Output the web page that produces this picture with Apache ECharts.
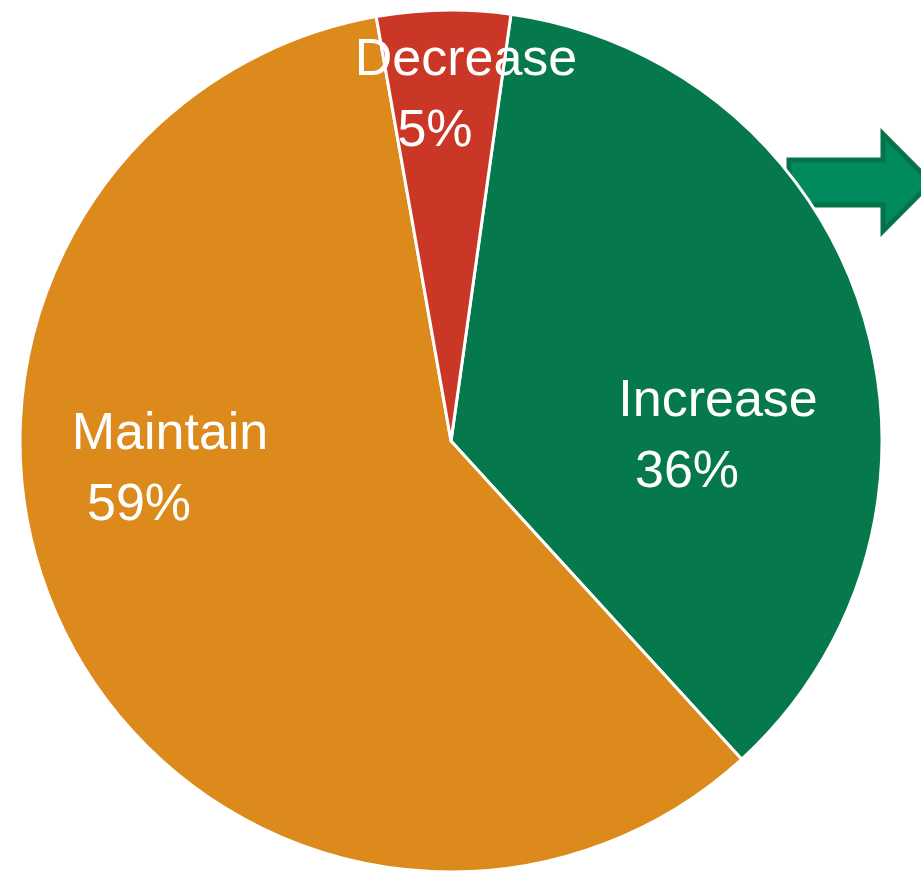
<!DOCTYPE html>
<html>
<head>
<meta charset="utf-8">
<script src="https://cdn.jsdelivr.net/npm/echarts@6/dist/echarts.min.js"></script>
<style>html,body{margin:0;padding:0;background:#fff}#c{width:921px;height:871px}</style>
</head>
<body>
<div id="c"></div>
<script>
const categories = ['Increase', 'Maintain', 'Decrease'];
const shares = [36, 59, 5];
const sliceColors = ['#05784C', '#DB8A1B', '#CB3727'];
const labelCenters = [[718, 437], [170, 470], [466, 96]];

const chart = echarts.init(document.getElementById('c'), null, {renderer: 'canvas'});
const data = categories.map((n, i) => ({name: n, value: shares[i], itemStyle: {color: sliceColors[i]}}));

chart.setOption({
  animation: false,
  backgroundColor: '#ffffff',
  graphic: [{
    type: 'polygon',
    z: 0,
    shape: {points: [[789,160],[883,160],[883,134],[931,182.5],[883,231],[883,205],[789,205]]},
    style: {fill: '#008A5E', stroke: '#067248', lineWidth: 5, lineJoin: 'miter'}
  }],
  series: [{
    type: 'pie',
    z: 5,
    center: [451, 441],
    radius: [0, 431],
    startAngle: 82,
    clockwise: true,
    data: data,
    itemStyle: {borderColor: '#ffffff', borderWidth: 3},
    label: {
      show: true,
      position: 'inside',
      formatter: p => '{n|' + p.name + '}\n{p|' + p.value + '%}',
      rich: {
        n: {fontFamily: 'Liberation Sans', fontSize: 52, color: '#ffffff', lineHeight: 71},
        p: {fontFamily: 'Liberation Sans', fontSize: 52, color: '#ffffff', lineHeight: 71, padding: [0, 62, 0, 0]}
      }
    },
    labelLayout: params => ({x: labelCenters[params.dataIndex][0], y: labelCenters[params.dataIndex][1]}),
    labelLine: {show: false},
    emphasis: {disabled: true}
  }]
});
</script>
</body>
</html>
